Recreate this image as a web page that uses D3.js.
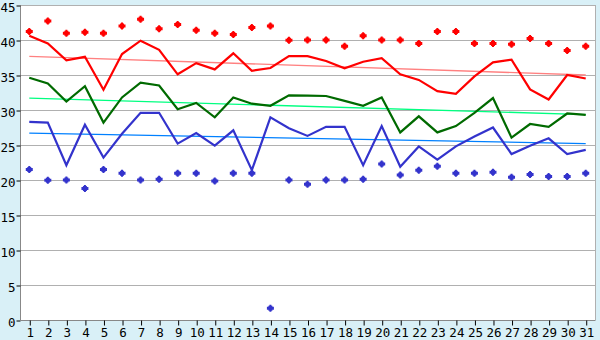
<!DOCTYPE html>
<html>
<head>
<meta charset="utf-8">
<script src="https://cdn.jsdelivr.net/npm/d3@7"></script>
<style>
  body { margin: 0; background: #d9f0f7; }
  svg text { font-family: "DejaVu Sans Mono", monospace; font-size: 12.5px; fill: #000; }
</style>
</head>
<body>
<div id="chart"></div>
<script>
const days = d3.range(1, 32);

const maxLine = [40.6, 39.5, 37.1, 37.6, 32.9, 38.0, 39.9, 38.6, 35.1, 36.7,
  35.8, 38.1, 35.6, 36.0, 37.7, 37.7, 37.0, 35.95, 36.9, 37.4,
  35.1, 34.3, 32.7, 32.3, 34.8, 36.8, 37.2, 32.95, 31.5, 35.0, 34.5];

const avgLine = [34.6, 33.8, 31.2, 33.4, 28.2, 31.8, 33.9, 33.5, 30.1, 31.0,
  28.95, 31.8, 30.9, 30.6, 32.1, 32.05, 32.0, 31.3, 30.6, 31.8,
  26.8, 29.1, 26.8, 27.7, 29.6, 31.7, 26.05, 28.0, 27.6, 29.5, 29.3];

const minLine = [28.3, 28.2, 22.1, 27.9, 23.2, 26.6, 29.6, 29.6, 25.2, 26.7,
  24.9, 27.1, 21.4, 28.95, 27.4, 26.3, 27.6, 27.6, 22.1, 27.7,
  21.9, 24.8, 22.9, 24.8, 26.2, 27.5, 23.7, 24.9, 25.95, 23.7, 24.3];

const highPoints = [41.2, 42.7, 40.95, 41.1, 40.95, 42.0, 42.95, 41.6, 42.2, 41.4,
  40.95, 40.8, 41.8, 42.0, 39.95, 40.0, 40.0, 39.1, 40.6, 40.0,
  40.0, 39.5, 41.2, 41.2, 39.5, 39.5, 39.4, 40.2, 39.5, 38.5, 39.1];

const lowPoints = [21.5, 19.95, 20.0, 18.8, 21.5, 20.95, 20.0, 20.1, 20.95, 20.95,
  19.86, 20.95, 20.95, 1.67, 20.0, 19.4, 20.0, 20.0, 20.1, 22.3,
  20.7, 21.4, 21.95, 20.95, 20.95, 21.1, 20.4, 20.8, 20.5, 20.5, 20.95];

// trend lines: value at day 1 and day 31
const maxTrend = [37.65, 35.0];
const avgTrend = [31.7, 29.35];
const minTrend = [26.7, 25.2];

const yTicks = [0, 5, 10, 15, 20, 25, 30, 35, 40, 45];

const width = 600, height = 340;
const plotLeft = 20, plotRight = 595, plotTop = 5, plotBottom = 320;

const svg = d3.select("#chart").append("svg")
  .attr("width", width).attr("height", height);

svg.append("rect").attr("width", width).attr("height", height).attr("fill", "#d9f0f7");

const x = d3.scaleLinear().domain([0.5, 31.5]).range([plotLeft, plotRight]);
const y = d3.scaleLinear().domain([0, 45]).range([plotBottom, plotTop]);

svg.append("rect")
  .attr("x", plotLeft).attr("y", plotTop)
  .attr("width", plotRight - plotLeft).attr("height", plotBottom - plotTop)
  .attr("fill", "#fff");

// grid
svg.append("g").selectAll("line")
  .data(yTicks.filter(d => d > 0))
  .enter().append("line")
  .attr("x1", plotLeft).attr("x2", plotRight)
  .attr("y1", d => Math.round(y(d)) + 0.5).attr("y2", d => Math.round(y(d)) + 0.5)
  .attr("stroke", "#b0b0b0").attr("stroke-width", 1);

// right border
svg.append("line")
  .attr("x1", plotRight + 0.5).attr("x2", plotRight + 0.5)
  .attr("y1", plotTop).attr("y2", plotBottom)
  .attr("stroke", "#b0b0b0");

// axes
const yAxis = d3.axisLeft(y).tickValues(yTicks).tickSize(4).tickPadding(1);
const yg = svg.append("g").attr("transform", `translate(${plotLeft + 0.5},0.5)`).call(yAxis);
yg.select(".domain").attr("stroke", "#888").attr("d", `M0,${plotTop}V${plotBottom}`);
yg.selectAll(".tick line").attr("stroke", "#000");
yg.selectAll(".tick text").attr("dy", "0.45em");

const xAxis = d3.axisBottom(x).tickValues(days).tickSize(5).tickPadding(3).tickFormat(d3.format("d"));
const xg = svg.append("g").attr("transform", `translate(0.5,${plotBottom + 0.5})`).call(xAxis);
xg.select(".domain").attr("stroke", "#888").attr("d", `M${plotLeft},0H${plotRight}`);
xg.selectAll(".tick line").attr("stroke", "#000");
svg.selectAll(".tick text").style("font-family", "DejaVu Sans Mono, monospace").style("font-size", "12.5px");

// trend lines
const trends = [
  { v: maxTrend, color: "#ff8080" },
  { v: avgTrend, color: "#00ff80" },
  { v: minTrend, color: "#0080ff" }
];
svg.append("g").selectAll("line")
  .data(trends).enter().append("line")
  .attr("x1", x(1)).attr("x2", x(31))
  .attr("y1", d => y(d.v[0])).attr("y2", d => y(d.v[1]))
  .attr("stroke", d => d.color).attr("stroke-width", 1.3);

// main lines
const line = d3.line().x((d, i) => x(days[i])).y(d => y(d));
const series = [
  { v: maxLine, color: "#ff0000" },
  { v: avgLine, color: "#006a00" },
  { v: minLine, color: "#3333cc" }
];
series.forEach(s => {
  svg.append("path")
    .datum(s.v)
    .attr("fill", "none")
    .attr("stroke", s.color)
    .attr("stroke-width", 2.2)
    .attr("stroke-linejoin", "miter")
    .attr("d", line);
});

// markers
const marker = "M-1,-3.5h2v1h1v1h1.5v3h-1.5v1h-1v1h-2v-1h-1v-1h-1.5v-3h1.5v-1h1z";
[{ v: highPoints, color: "#ff0000" }, { v: lowPoints, color: "#3333cc" }].forEach(s => {
  svg.append("g").selectAll("path")
    .data(s.v).enter().append("path")
    .attr("d", marker)
    .attr("transform", (d, i) => `translate(${x(days[i])},${y(d)})`)
    .attr("fill", s.color);
});
</script>
</body>
</html>
